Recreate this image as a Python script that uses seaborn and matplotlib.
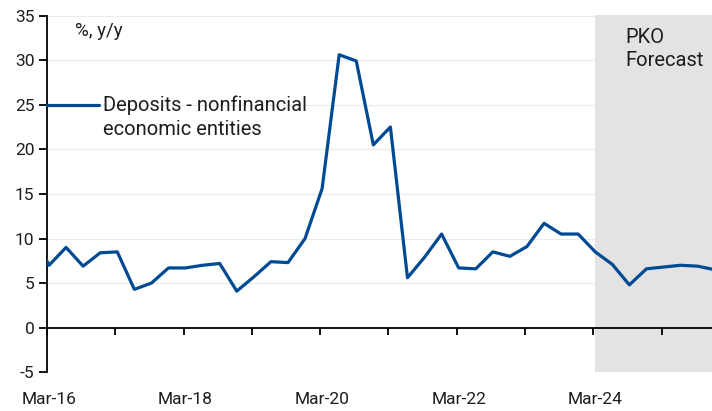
import matplotlib
matplotlib.use("Agg")
import matplotlib.pyplot as plt
import seaborn as sns
import numpy as np
import pandas as pd

# ---- data ----
quarters = ["Dec-15",
            "Mar-16", "Jun-16", "Sep-16", "Dec-16",
            "Mar-17", "Jun-17", "Sep-17", "Dec-17",
            "Mar-18", "Jun-18", "Sep-18", "Dec-18",
            "Mar-19", "Jun-19", "Sep-19", "Dec-19",
            "Mar-20", "Jun-20", "Sep-20", "Dec-20",
            "Mar-21", "Jun-21", "Sep-21", "Dec-21",
            "Mar-22", "Jun-22", "Sep-22", "Dec-22",
            "Mar-23", "Jun-23", "Sep-23", "Dec-23",
            "Mar-24", "Jun-24", "Sep-24", "Dec-24",
            "Mar-25", "Jun-25", "Sep-25", "Dec-25"]
deposits = [11.0,
            7.0, 9.0, 6.9, 8.4,
            8.5, 4.3, 5.0, 6.7,
            6.7, 7.0, 7.2, 4.1,
            5.7, 7.4, 7.3, 10.0,
            15.6, 30.6, 29.9, 20.5,
            22.5, 5.6, 7.9, 10.5,
            6.7, 6.6, 8.5, 8.0,
            9.1, 11.7, 10.5, 10.5,
            8.5, 7.1, 4.8, 6.6,
            6.8, 7.0, 6.9, 6.5]
tick_labels = ["Mar-16", "Mar-18", "Mar-20", "Mar-22", "Mar-24"]
forecast_start = "Mar-24"
series_name = "Deposits - nonfinancial\neconomic entities"
unit_label = "%, y/y"
forecast_label = "PKO\nForecast"
y_ticks = [-5, 0, 5, 10, 15, 20, 25, 30, 35]

# ---- styling ----
sns.set_theme(style="white")
plt.rcParams['font.family'] = ['Roboto', 'DejaVu Sans']
LINE = "#004a93"
TXT = "#1e1e1e"

df = pd.DataFrame({"q": np.arange(len(quarters)) - 1, "v": deposits, "s": series_name})
pos = {q: i - 1 for i, q in enumerate(quarters)}

fig = plt.figure(figsize=(7.12, 4.11), dpi=100)
ax = fig.add_axes([47 / 712, 1 - 372.3 / 411, 665 / 712, (372.3 - 15.5) / 411])

x_lo = -2 / 17.07
x_hi = 665 / 17.07 + x_lo
ax.set_xlim(x_lo, x_hi)
ax.set_ylim(-5, 35)

# gridlines
for yv in y_ticks:
    if yv != 0:
        ax.axhline(yv, color="#ebebeb", lw=0.8, zorder=0)

# forecast shade
ax.axvspan(pos[forecast_start], x_hi + 1, color="#e3e3e3", lw=0, zorder=0.5)

sns.lineplot(data=df, x="q", y="v", hue="s", palette=[LINE], ax=ax,
             lw=2.3, zorder=3, legend=True)

# axes styling
for s in ["top", "right"]:
    ax.spines[s].set_visible(False)
ax.spines["left"].set_color("black")
ax.spines["left"].set_linewidth(1.3)
ax.spines["bottom"].set_position(("data", 0))
ax.spines["bottom"].set_color("black")
ax.spines["bottom"].set_linewidth(1.3)
ax.spines["bottom"].set_zorder(4)

ax.set_yticks(y_ticks)
ax.set_yticklabels([str(v) for v in y_ticks])
ax.tick_params(axis="y", direction="out", length=6, width=1.3, color="black",
               labelsize=12.5, labelcolor=TXT, pad=3, left=True)

ax.set_xticks([pos[t] for t in tick_labels])
ax.set_xticklabels(tick_labels)
ax.tick_params(axis="x", which="major", length=0, pad=46, labelsize=12.5,
               labelcolor=TXT, bottom=True)
ax.set_xticks([x_lo + 4 * k for k in range(10)], minor=True)
ax.tick_params(axis="x", which="minor", direction="out", length=5, width=1.3,
               color="black", bottom=True)
ax.set_xlabel("")
ax.set_ylabel("")

# legend
leg = ax.legend(loc="center left", bbox_to_anchor=(0, (372.3 - 117) / 356.8),
                frameon=False, fontsize=14.5, handlelength=2.6, handletextpad=0.2,
                borderpad=0, borderaxespad=0, labelcolor=TXT)
for t in leg.get_texts():
    t.set_linespacing(1.3)
for h in leg.get_lines():
    h.set_linewidth(2.3)
    yd = np.asarray(h.get_ydata(), dtype=float)
    h.set_ydata(yd + 9.0)

ax.text(28 / 665, (372.3 - 22) / 356.8, unit_label, transform=ax.transAxes,
        fontsize=13.5, color=TXT, va="top", ha="left")
ax.text(pos[forecast_start] + 1.75, 33.6, forecast_label, fontsize=14.5,
        color=TXT, va="top", ha="left", linespacing=1.25, zorder=5)

fig.savefig("out.png", dpi=100)
